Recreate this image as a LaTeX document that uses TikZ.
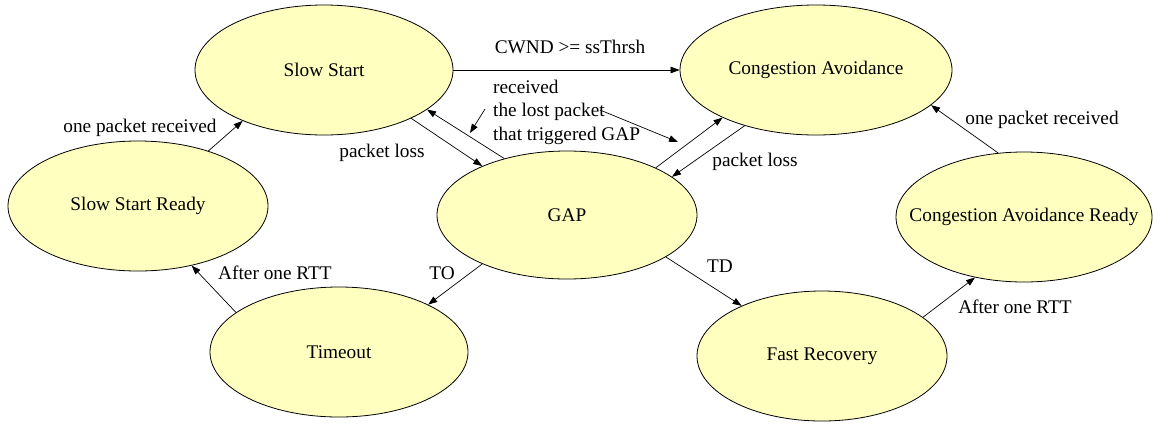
\documentclass[tikz,border=0pt]{standalone}
\usepackage{fontspec}
\setmainfont{Liberation Serif}
\usetikzlibrary{shapes.geometric,arrows.meta}
\definecolor{nodefill}{RGB}{255,255,192}
\begin{document}
\begin{tikzpicture}[x=1pt,y=-1pt,
  state/.style={ellipse,draw=black,line width=0.8pt,fill=nodefill,inner sep=0pt,
    minimum width=258pt,minimum height=130pt,font=\fontsize{19.3}{23.5}\selectfont},
  tr/.style={-{Triangle[length=9pt,width=6.5pt]},line width=0.7pt},
  lbl/.style={inner sep=0pt,font=\fontsize{19.3}{23.5}\selectfont}]
\useasboundingbox (0,0) rectangle (1153,424);
% states
\node[state] (ss)  at (324,70)  {\makebox[0pt]{Slow Start}};
\node[state,minimum width=272pt] (ca) at (816,70) {\makebox[0pt]{Congestion Avoidance}};
\node[state,minimum width=260pt] (ssr) at (138,206) {\makebox[0pt]{Slow Start Ready}};
\node[state,minimum width=260pt,minimum height=128pt] (gap) at (567,215) {\makebox[0pt]{GAP}};
\node[state,minimum width=256pt] (car) at (1024,217) {\makebox[0pt]{Congestion Avoidance Ready}};
\node[state] (to)  at (339,352) {\makebox[0pt]{Timeout}};
\node[state,minimum width=250pt] (fr) at (822,356) {\makebox[0pt]{Fast Recovery}};
% transitions
\draw[tr] (ss.0) -- (ca.180);
\node[lbl] (l1) at (570,47) {CWND >= ssThrsh};
\draw[tr] (ssr.38.3) -- (ss.212.6);
\node[lbl] (l2) at (140,128) {one packet received};
\draw[tr] (to.159.3) -- (ssr.312.6);
\node[lbl] (l3) at (275,273) {After one RTT};
\draw[tr] (gap.210.8) -- (to.28.6);
\node[lbl] (l4) at (442,273) {TO};
\draw[tr] (gap.337.3) -- (fr.148.1);
\node[lbl] (l5) at (720,266) {TD};
\draw[tr] (fr.21.8) -- (car.231.4);
\node[lbl] (l6) at (1015,307) {After one RTT};
\draw[tr] (car.112.2) -- (ca.343.6);
\node[lbl] (l7) at (1042,120) {one packet received};
\draw[tr] (ss.331.7) -- (gap.150.5);
\node[lbl] (l8) at (382,153) {packet loss};
\draw[tr] (gap.138.7) -- (ss.339.1);
\draw[tr] (gap.28.6) -- (ca.207);
\draw[tr] (ca.218) -- (gap.20.4);
\node[lbl] (l9) at (755,162) {packet loss};
% decorated label
\node[lbl,anchor=west,align=left] (l10) at (493,112) {received\\the lost packet\\that triggered GAP};
\coordinate (d1s) at (485,109);
\coordinate (d1e) at (470,133);
\coordinate (d2s) at (600,110);
\coordinate (d2e) at (678,142);
\draw[tr] (d1s) -- (d1e);
\draw[tr] (d2s) -- (d2e);
\end{tikzpicture}
\end{document}
